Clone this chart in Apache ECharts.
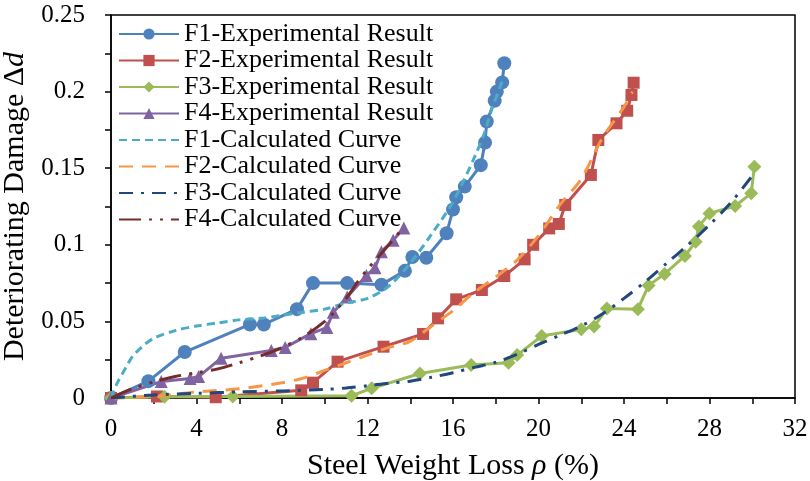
<!DOCTYPE html>
<html>
<head>
<meta charset="utf-8">
<script src="https://cdn.jsdelivr.net/npm/echarts@6/dist/echarts.min.js"></script>
<style>
  html, body { margin: 0; padding: 0; background: #fff; }
  #chart { width: 810px; height: 481px; }
</style>
</head>
<body>
<div id="chart"></div>
<script>
// Steel weight loss rho (%) vs. deteriorating damage, four specimens
var f1Exp = [[0,0],[1.75,0.011],[3.45,0.03],[6.5,0.048],[7.15,0.048],[8.7,0.058],[9.45,0.075],[11.05,0.075],[12.65,0.074],[13.75,0.083],[14.1,0.092],[14.75,0.0915],[15.7,0.1075],[16.0,0.123],[16.15,0.131],[16.55,0.138],[17.3,0.152],[17.5,0.1667],[17.58,0.1805],[17.95,0.194],[18.05,0.2],[18.3,0.206],[18.4,0.2185]];
var f2Exp = [[0,0],[2.15,0.001],[4.9,0.0005],[8.9,0.005],[9.45,0.01],[10.6,0.0237],[12.75,0.0335],[14.6,0.0418],[15.3,0.052],[16.15,0.0644],[17.35,0.0705],[18.4,0.0796],[19.35,0.0905],[19.75,0.1],[20.5,0.1107],[20.95,0.1136],[21.25,0.126],[22.45,0.1456],[22.8,0.1684],[23.65,0.1793],[24.15,0.1875],[24.35,0.1978],[24.45,0.2058]];
var f3Exp = [[0,0],[2.5,0.0008],[5.7,0.001],[11.25,0.0015],[12.2,0.0063],[14.45,0.016],[16.85,0.0215],[18.6,0.023],[19.0,0.028],[20.15,0.0405],[22.0,0.0448],[22.6,0.0466],[23.2,0.0585],[24.65,0.058],[25.15,0.0735],[25.9,0.081],[26.85,0.0927],[27.35,0.102],[27.5,0.112],[28.0,0.1205],[29.2,0.1253],[29.95,0.1336],[30.1,0.151]];
var f4Exp = [[0,0],[2.35,0.0107],[3.7,0.0128],[4.1,0.014],[5.15,0.026],[7.5,0.031],[8.15,0.033],[9.35,0.042],[10.1,0.046],[10.4,0.056],[11.05,0.066],[11.95,0.08],[12.35,0.085],[12.65,0.0955],[13.2,0.103],[13.7,0.111]];

var f1Calc = [[0,0],[0.3,0.01],[0.7,0.02],[1,0.027],[1.5,0.034],[2,0.039],[3,0.044],[4,0.047],[5,0.049],[6,0.051],[7,0.052],[8,0.054],[9,0.056],[10,0.058],[11,0.062],[12,0.065],[13,0.073],[14,0.088],[15,0.107],[16,0.128],[17,0.157],[17.5,0.174],[17.8,0.188],[18.2,0.203],[18.35,0.209]];
var f2Calc = [[0,0],[2,0.001],[4,0.004],[6,0.006],[8,0.01],[9,0.013],[10,0.018],[11,0.023],[12,0.028],[13,0.033],[14,0.037],[15,0.047],[16,0.057],[17,0.069],[18,0.079],[19,0.09],[20,0.106],[21,0.126],[22,0.143],[23,0.17],[24,0.19],[24.4,0.2]];
var f3Calc = [[0,0],[2,0.002],[4,0.003],[6,0.004],[8,0.0046],[10,0.0056],[11,0.0065],[12,0.008],[13,0.0097],[14,0.011],[15,0.0135],[16,0.0165],[17,0.02],[18,0.0233],[19,0.0285],[20,0.035],[21,0.041],[22,0.047],[23,0.055],[24,0.065],[25,0.076],[26,0.088],[27,0.1],[28,0.113],[29,0.1275],[30,0.145]];
var f4Calc = [[0,0],[1,0.006],[2,0.0105],[3,0.014],[4,0.0165],[5,0.019],[6,0.023],[7,0.0275],[8,0.033],[9,0.04],[10,0.05],[10.5,0.057],[11,0.065],[11.5,0.075],[12,0.084],[12.5,0.092],[13,0.1],[13.6,0.11]];

var expNames = ['F1-Experimental Result','F2-Experimental Result','F3-Experimental Result','F4-Experimental Result'];
var calcNames = ['F1-Calculated Curve','F2-Calculated Curve','F3-Calculated Curve','F4-Calculated Curve'];

var FONT = "'Liberation Serif', 'Times New Roman', serif";

function expSeries(name, data, color, symbol, size) {
  return {
    name: name, type: 'line', data: data,
    symbol: symbol, symbolSize: size,
    itemStyle: { color: color },
    lineStyle: { color: color, width: 3 },
    z: 2
  };
}
function calcSeries(name, data, color, dash) {
  return {
    name: name, type: 'line', data: data,
    symbol: 'none', smooth: 0.3,
    itemStyle: { color: color },
    lineStyle: { color: color, width: 3, type: dash, cap: 'butt' },
    z: 3
  };
}

// legend entries: the calculated curves show only their line pattern
var legendData = expNames.map(function (n) { return { name: n }; })
  .concat(calcNames.map(function (n) { return { name: n, itemStyle: { opacity: 0 } }; }));

var chart = echarts.init(document.getElementById('chart'), null, { renderer: 'canvas' });
chart.setOption({
  animation: false,
  backgroundColor: '#fff',
  textStyle: { fontFamily: FONT },
  grid: {
    left: 111, right: 15, top: 15, bottom: 83,
    outerBoundsMode: 'none', containLabel: false,
    show: true, borderColor: '#000', borderWidth: 1.5
  },
  legend: {
    data: legendData,
    orient: 'vertical', left: 113, top: 16,
    itemWidth: 60, itemHeight: 14, itemGap: 0.5,
    textStyle: { fontFamily: FONT, fontSize: 26, color: '#000', lineHeight: 26 }
  },
  xAxis: {
    type: 'value', min: 0, max: 32, interval: 4,
    axisLine: { onZero: false, lineStyle: { color: '#000', width: 1.5 } },
    axisTick: { inside: false, length: 6, lineStyle: { color: '#000', width: 1.5 } },
    minorTick: { show: true, splitNumber: 2, length: 6, lineStyle: { color: '#000', width: 1.5 } },
    splitLine: { show: false },
    axisLabel: { fontFamily: FONT, fontSize: 25, color: '#000', margin: 19 },
    name: '{t|Steel Weight Loss }{i|ρ}{t| (%)}',
    nameLocation: 'middle', nameGap: 53,
    nameTextStyle: {
      rich: {
        t: { fontFamily: FONT, fontSize: 30, color: '#000' },
        i: { fontFamily: FONT, fontSize: 30, color: '#000', fontStyle: 'italic' }
      }
    }
  },
  yAxis: {
    type: 'value', min: 0, max: 0.25, interval: 0.05,
    axisLine: { show: true, onZero: false, lineStyle: { color: '#000', width: 1.5 } },
    axisTick: { show: true, inside: false, length: 6, lineStyle: { color: '#000', width: 1.5 } },
    minorTick: { show: true, splitNumber: 2, length: 6, lineStyle: { color: '#000', width: 1.5 } },
    splitLine: { show: false },
    axisLabel: { fontFamily: FONT, fontSize: 25, color: '#000', margin: 26 },
    name: '{t|Deteriorating Damage Δ}{i|d}',
    nameLocation: 'middle', nameGap: 72, nameRotate: 90,
    nameTextStyle: {
      rich: {
        t: { fontFamily: FONT, fontSize: 30, color: '#000' },
        i: { fontFamily: FONT, fontSize: 30, color: '#000', fontStyle: 'italic' }
      }
    }
  },
  series: [
    expSeries(expNames[0], f1Exp, '#4F81BD', 'circle', 14),
    expSeries(expNames[1], f2Exp, '#C0504D', 'rect', 12),
    expSeries(expNames[2], f3Exp, '#9BBB59', 'diamond', 14),
    expSeries(expNames[3], f4Exp, '#8064A2', 'triangle', 13),
    calcSeries(calcNames[0], f1Calc, '#4BACC6', [8, 5]),
    calcSeries(calcNames[1], f2Calc, '#F79646', [14, 9]),
    calcSeries(calcNames[2], f3Calc, '#1F497D', [14, 8, 3, 8]),
    calcSeries(calcNames[3], f4Calc, '#772C2A', [22, 8, 3, 8, 3, 8])
  ]
});
</script>
</body>
</html>
